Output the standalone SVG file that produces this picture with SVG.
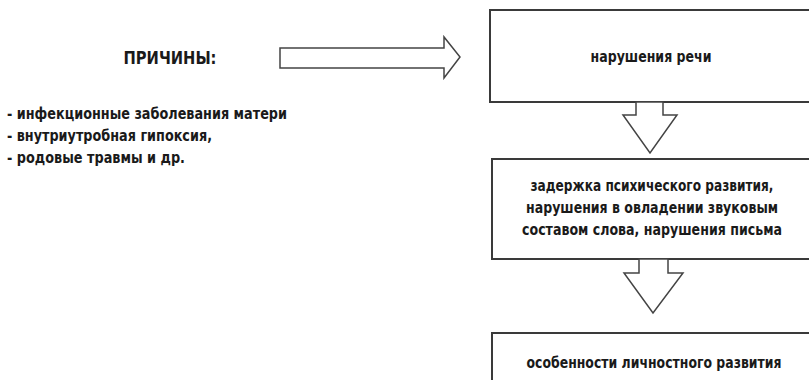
<svg xmlns="http://www.w3.org/2000/svg" width="809" height="380" viewBox="0 0 809 380">
<style>
.t{font-family:"DejaVu Sans Condensed","DejaVu Sans","Liberation Sans",sans-serif;font-stretch:condensed;font-weight:bold;fill:#1a1a1a;font-size:15.5px}
.c{text-anchor:middle}
.box{fill:#fff;stroke:#3a3a3a;stroke-width:2}
.arr{fill:#fff;stroke:#444;stroke-width:1.5;stroke-linejoin:miter}
</style>
<rect width="809" height="380" fill="#fff"/>
<g id="causes">
<text class="t c" x="170" y="64" style="font-size:17px" textLength="93" lengthAdjust="spacingAndGlyphs">ПРИЧИНЫ:</text>
<text class="t" x="7" y="119" textLength="280" lengthAdjust="spacingAndGlyphs">- инфекционные заболевания матери</text>
<text class="t" x="7" y="141" textLength="205" lengthAdjust="spacingAndGlyphs">- внутриутробная гипоксия,</text>
<text class="t" x="7" y="163" textLength="178" lengthAdjust="spacingAndGlyphs">- родовые травмы и др.</text>
</g>
<g id="speech">
<rect class="box" x="490" y="10" width="325" height="92"/>
<text class="t c" x="651" y="62" textLength="121" lengthAdjust="spacingAndGlyphs">нарушения речи</text>
</g>
<g id="delay">
<rect class="box" x="492" y="159" width="325" height="100"/>
<text class="t c" x="652" y="191" textLength="243" lengthAdjust="spacingAndGlyphs">задержка психического развития,</text>
<text class="t c" x="652" y="213" textLength="252" lengthAdjust="spacingAndGlyphs">нарушения в овладении звуковым</text>
<text class="t c" x="652" y="235" textLength="260" lengthAdjust="spacingAndGlyphs">составом слова, нарушения письма</text>
</g>
<g id="personality">
<rect class="box" x="492" y="333" width="325" height="60"/>
<text class="t c" x="654" y="368" textLength="255" lengthAdjust="spacingAndGlyphs">особенности личностного развития</text>
</g>
<g id="connectors">
<polygon class="arr" points="280,48 444,48 444,37 460,57 444,78 444,68 280,68"/>
<polygon class="arr" points="636,102 636,115 623,115 650,153 677,115 663,115 663,102"/>
<polygon class="arr" points="639,259 639,273 624,273 653,313 683,273 668,273 668,259"/>
</g>
</svg>
